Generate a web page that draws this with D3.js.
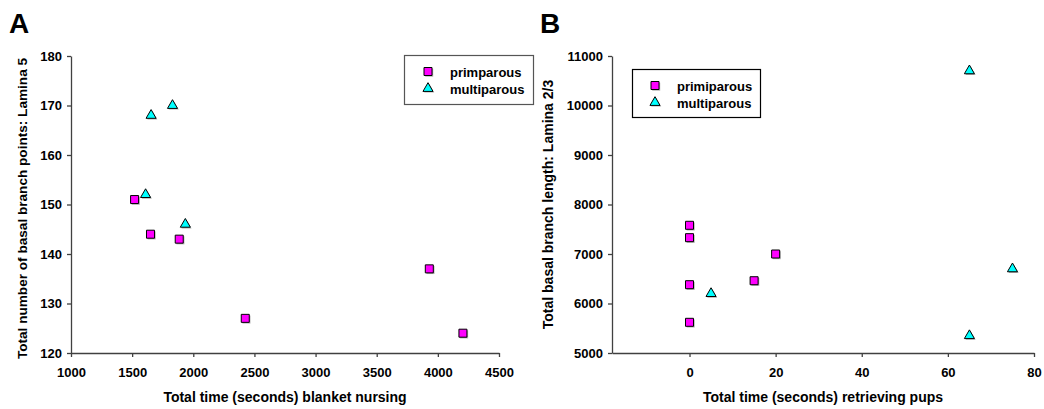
<!DOCTYPE html>
<html>
<head>
<meta charset="utf-8">
<script src="https://cdn.jsdelivr.net/npm/d3@7"></script>
<style>
  body { margin: 0; background: #fff; }
  svg text { font-family: "Liberation Sans", Arial, sans-serif; font-weight: bold; fill: #000; }
</style>
</head>
<body>
<svg id="chart"></svg>
<script>
// ---- data ----
const aPrimX = [1520, 1650, 1885, 2425, 3930, 4205];
const aPrimY = [151, 144, 143, 127, 137, 124];
const aMultiX = [1610, 1655, 1830, 1935];
const aMultiY = [152, 168, 170, 146];

const bPrimX = [0, 0, 0, 0, 15, 20];
const bPrimY = [7580, 7330, 6380, 5620, 6460, 7000];
const bMultiX = [5, 65, 65, 75];
const bMultiY = [6200, 10700, 5350, 6700];

const aXTicks = [1000, 1500, 2000, 2500, 3000, 3500, 4000, 4500];
const aYTicks = [120, 130, 140, 150, 160, 170, 180];
const bXTicks = [0, 20, 40, 60, 80];
const bYTicks = [5000, 6000, 7000, 8000, 9000, 10000, 11000];

const W = 1044, H = 409;
const svg = d3.select("#chart").attr("width", W).attr("height", H);

const axisColor = "#404040";
const primColor = "#ff00ff";
const multiColor = "#00ffff";

const square = d3.symbol().type(d3.symbolSquare).size(64);
const triangle = d3.symbol().type(d3.symbolTriangle).size(44);

function drawMarker(g, x, y, kind) {
  const path = kind === "prim" ? square() : triangle();
  const fill = kind === "prim" ? primColor : multiColor;
  // excel-like drop shadow
  g.append("path").attr("d", path)
    .attr("transform", `translate(${x + 1.2},${y + 1.2})`)
    .attr("fill", "#b0b0b0");
  g.append("path").attr("d", path)
    .attr("transform", `translate(${x},${y})`)
    .attr("fill", fill).attr("stroke", "#000").attr("stroke-width", 1);
}

function panel(cfg) {
  const x = d3.scaleLinear().domain(cfg.xDomain).range([cfg.left, cfg.right]);
  const y = d3.scaleLinear().domain(cfg.yDomain).range([cfg.bottom, cfg.top]);
  const g = svg.append("g");
  const fmt = d3.format("d");

  const xAxis = g.append("g")
    .attr("transform", `translate(0,${cfg.bottom})`)
    .call(d3.axisBottom(x).tickValues(cfg.xTicks).tickFormat(fmt)
      .tickSize(4).tickSizeOuter(0).tickPadding(6));
  const yAxis = g.append("g")
    .attr("transform", `translate(${cfg.left},0)`)
    .call(d3.axisLeft(y).tickValues(cfg.yTicks).tickFormat(fmt)
      .tickSize(4).tickSizeOuter(0).tickPadding(5));

  [xAxis, yAxis].forEach(ax => {
    ax.selectAll("path, line").attr("stroke", axisColor).attr("stroke-width", 1.3);
    ax.selectAll("text")
      .style("font-family", "'Liberation Sans', Arial, sans-serif")
      .style("font-weight", "bold")
      .style("font-size", "13px")
      .attr("fill", "#000");
  });
  xAxis.selectAll("text").attr("dy", "1.05em");

  // axis titles
  g.append("text")
    .attr("x", (cfg.left + cfg.right) / 2).attr("y", 402)
    .attr("text-anchor", "middle").style("font-size", "14px")
    .text(cfg.xTitle);
  g.append("text")
    .attr("transform", `translate(${cfg.yTitleX},${(cfg.top + cfg.bottom) / 2 + cfg.yTitleDy}) rotate(-90)`)
    .attr("text-anchor", "middle").style("font-size", cfg.yTitleSize)
    .text(cfg.yTitle);

  // panel letter
  g.append("text")
    .attr("x", cfg.letterX).attr("y", 33)
    .style("font-size", "28px")
    .text(cfg.letter);

  // points
  const pts = g.append("g");
  cfg.primX.forEach((v, i) => drawMarker(pts, x(v), y(cfg.primY[i]), "prim"));
  cfg.multiX.forEach((v, i) => drawMarker(pts, x(v), y(cfg.multiY[i]), "multi"));

  // legend
  const L = cfg.legend;
  const lg = g.append("g");
  lg.append("rect")
    .attr("x", L.x).attr("y", L.y).attr("width", L.w).attr("height", L.h)
    .attr("fill", "#fff").attr("stroke", L.stroke).attr("stroke-width", 1.2);
  drawMarker(lg, L.mx, L.y + 16, "prim");
  drawMarker(lg, L.mx, L.y + 33, "multi");
  lg.append("text").attr("x", L.tx).attr("y", L.y + 21).style("font-size", "13px").text(L.labels[0]);
  lg.append("text").attr("x", L.tx).attr("y", L.y + 38).style("font-size", "13px").text(L.labels[1]);
}

panel({
  letter: "A", letterX: 9,
  left: 71, right: 499, top: 56, bottom: 353,
  xDomain: [1000, 4500], yDomain: [120, 180],
  xTicks: aXTicks, yTicks: aYTicks,
  primX: aPrimX, primY: aPrimY, multiX: aMultiX, multiY: aMultiY,
  xTitle: "Total time (seconds) blanket nursing",
  yTitle: "Total number of basal branch points: Lamina 5",
  yTitleX: 27, yTitleDy: 4, yTitleSize: "13.6px",
  legend: { x: 404.5, y: 55.5, w: 129, h: 49, mx: 428, tx: 450, stroke: "#555",
            labels: ["primparous", "multiparous"] }
});

panel({
  letter: "B", letterX: 540,
  left: 612, right: 1034, top: 56, bottom: 353,
  xDomain: [-18, 80], yDomain: [5000, 11000],
  xTicks: bXTicks, yTicks: bYTicks,
  primX: bPrimX, primY: bPrimY, multiX: bMultiX, multiY: bMultiY,
  xTitle: "Total time (seconds) retrieving pups",
  yTitle: "Total basal branch length: Lamina 2/3",
  yTitleX: 553, yTitleDy: 0, yTitleSize: "14px",
  legend: { x: 632.5, y: 69.5, w: 128, h: 48, mx: 655, tx: 677, stroke: "#000",
            labels: ["primiparous", "multiparous"] }
});
</script>
</body>
</html>
